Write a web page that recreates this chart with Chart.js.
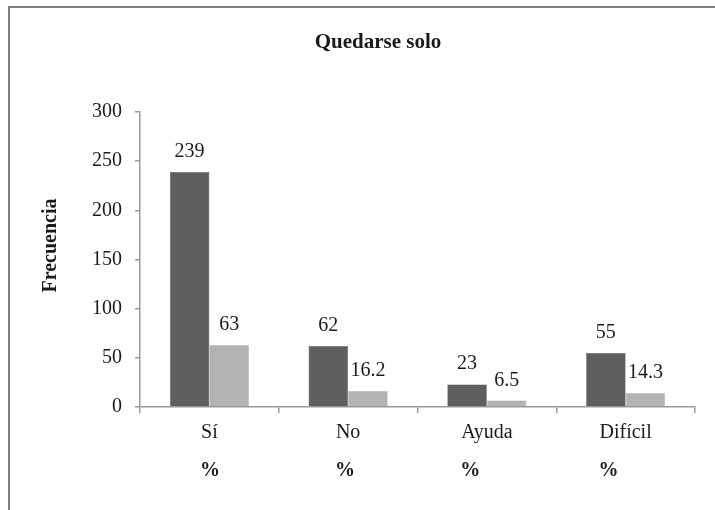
<!DOCTYPE html>
<html>
<head>
<meta charset="utf-8">
<script src="https://cdn.jsdelivr.net/npm/chart.js@4.4.1/dist/chart.umd.min.js"></script>
<style>
  html, body { margin: 0; padding: 0; background: #fff; width: 715px; height: 510px; overflow: hidden; }
  #frame {
    position: absolute; left: 8px; top: 6px;
    width: 744px; height: 502px;
    border-left: 2px solid #808080; border-top: 2px solid #808080;
  }
  #chart { display: block; }
</style>
</head>
<body>
<div id="frame"><canvas id="chart" width="744" height="502"></canvas></div>
<script>
// Categories, series and axis labels
const categories = ['Sí', 'No', 'Ayuda', 'Difícil'];
const unitLabels = ['%', '%', '%', '%'];
const frecuencia = [239, 62, 23, 55];
const porcentaje = [63, 16.2, 6.5, 14.3];
const chartTitle = 'Quedarse solo';
const yAxisTitle = 'Frecuencia';

const SERIF = '"Liberation Serif", "Times New Roman", serif';
const AXIS = '#9a9a9a';
const INK = '#1a1a1a';

// Title, axis title, value labels above each bar and the bold unit line under each category
const annotate = {
  id: 'annotate',
  afterDatasetsDraw(chart) {
    const ctx = chart.ctx;
    ctx.save();
    ctx.fillStyle = INK;
    ctx.font = '20px ' + SERIF;
    ctx.textAlign = 'center';
    ctx.textBaseline = 'alphabetic';
    chart.data.datasets.forEach((ds, di) => {
      chart.getDatasetMeta(di).data.forEach((bar, i) => {
        ctx.fillText(String(ds.data[i]), bar.x, bar.y - 15);
      });
    });
    ctx.restore();
  },
  afterDraw(chart) {
    const ctx = chart.ctx;
    const x = chart.scales.x;
    const y = chart.scales.y;
    ctx.save();
    ctx.fillStyle = INK;

    // chart title
    ctx.font = 'bold 21px ' + SERIF;
    ctx.textAlign = 'center';
    ctx.textBaseline = 'alphabetic';
    ctx.fillText(chartTitle, 368, 40);

    // vertical axis title
    ctx.save();
    ctx.font = 'bold 20px ' + SERIF;
    ctx.textBaseline = 'middle';
    ctx.translate(41, (y.top + y.bottom) / 2 - 14);
    ctx.rotate(-Math.PI / 2);
    ctx.fillText(yAxisTitle, 0, 0);
    ctx.restore();

    // unit line under each category label
    ctx.textBaseline = 'middle';
    ctx.textAlign = 'left';
    x.ticks.forEach((t, i) => {
      ctx.font = '20px ' + SERIF;
      const w = ctx.measureText(categories[i]).width;
      const cx = x.getPixelForTick(i);
      ctx.font = 'bold 20px ' + SERIF;
      ctx.fillText(unitLabels[i], cx - w / 2 - 1, x.bottom - 39);
    });
    ctx.restore();
  }
};

new Chart(document.getElementById('chart'), {
  type: 'bar',
  data: {
    labels: categories,
    datasets: [
      { data: frecuencia, backgroundColor: '#5f5f5f', borderColor: '#555', borderWidth: 0.5 },
      { data: porcentaje, backgroundColor: '#b3b3b3', borderColor: '#aaa', borderWidth: 0.5 }
    ]
  },
  options: {
    responsive: false,
    animation: false,
    events: [],
    layout: { padding: { left: 0, right: 59, top: 104, bottom: 0 } },
    datasets: { bar: { categoryPercentage: 0.57, barPercentage: 1.0 } },
    plugins: {
      legend: { display: false },
      tooltip: { enabled: false },
      title: { display: false }
    },
    scales: {
      x: {
        afterFit(s) { s.height = 103; },
        border: { display: true, color: AXIS, width: 1.5 },
        grid: { display: true, offset: true, drawOnChartArea: false, drawTicks: true, tickLength: 6, color: AXIS, lineWidth: 1.5 },
        ticks: { color: INK, padding: 8, font: { family: SERIF, size: 20 } }
      },
      y: {
        min: 0, max: 300,
        afterFit(s) { s.width = 130; },
        border: { display: true, color: AXIS, width: 1.5 },
        grid: { display: true, drawOnChartArea: false, drawTicks: true, tickLength: 5, color: AXIS, lineWidth: 1.5 },
        ticks: { stepSize: 50, color: INK, padding: 13, font: { family: SERIF, size: 20 } }
      }
    }
  },
  plugins: [annotate]
});
</script>
</body>
</html>
